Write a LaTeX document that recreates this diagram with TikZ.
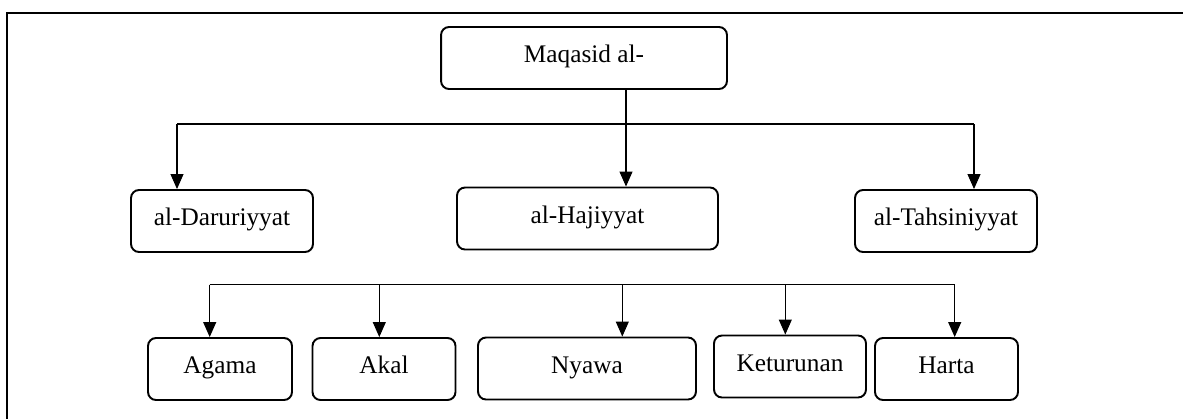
\documentclass[tikz,border=0pt]{standalone}
\usepackage{fontspec}
\setmainfont{Liberation Serif}
\usetikzlibrary{arrows.meta}

\begin{document}
\begin{tikzpicture}[x=0.02cm, y=-0.02cm,
  box/.style={draw, line width=1.1pt, rounded corners=0.16cm, inner sep=0pt,
    minimum height=1.24cm, text height=1.5ex, text depth=0.3ex,
    font=\fontsize{14.4}{17}\selectfont},
  wire/.style={line width=0.6pt},
  arr/.style={wire, -{Triangle[length=0.3cm, width=0.26cm]}},
  frame/.style={line width=1.4pt}]
  \useasboundingbox (0,0) rectangle (1183,419);
  \draw[frame] (1183,13) -- (7,13) -- (7,419);
  % level 1
  \node[box, minimum width=5.72cm] (maq) at (584,58) {Maqasid al-};
  % level 2
  \node[box, minimum width=3.64cm] (dar) at (222,221) {al-Daruriyyat};
  \node[box, minimum width=5.22cm] (haj) at (587.5,218.5) {al-Hajiyyat};
  \node[box, minimum width=3.64cm] (tah) at (946,221) {al-Tahsiniyyat};
  % level 3
  \node[box, minimum width=2.88cm] (aga) at (220,369) {Agama};
  \node[box, minimum width=2.86cm] (aka) at (384,369) {Akal};
  \node[box, minimum width=4.36cm] (nya) at (587,368.5) {Nyawa};
  \node[box, minimum width=3.04cm] (ket) at (790,366.5) {Keturunan};
  \node[box, minimum width=2.86cm] (har) at (946.5,369) {Harta};
  % bus points
  \coordinate (t1) at (177,124);
  \coordinate (t2) at (626,124);
  \coordinate (t3) at (974,124);
  \coordinate (b1) at (209.7,284.5);
  \coordinate (b2) at (379.3,284.5);
  \coordinate (b3) at (622.3,284.5);
  \coordinate (b4) at (785.3,284.5);
  \coordinate (b5) at (954.7,284.5);
  \draw[wire] (t1) -- (t3);
  \draw[arr] (t2 |- maq.south) -- (t2 |- haj.north);
  \draw[arr] (t1) -- (t1 |- dar.north);
  \draw[arr] (t3) -- (t3 |- tah.north);
  \draw[wire] (b1) -- (b5);
  \draw[arr] (b1) -- (b1 |- aga.north);
  \draw[arr] (b2) -- (b2 |- aka.north);
  \draw[arr] (b3) -- (b3 |- nya.north);
  \draw[arr] (b4) -- (b4 |- ket.north);
  \draw[arr] (b5) -- (b5 |- har.north);
\end{tikzpicture}
\end{document}
